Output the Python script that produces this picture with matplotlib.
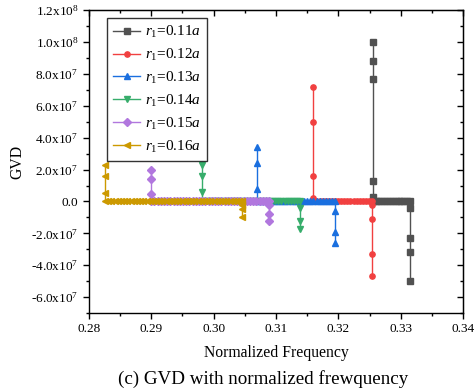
import numpy as np
import matplotlib
matplotlib.use('Agg')
import matplotlib.pyplot as plt
from matplotlib.ticker import MultipleLocator, FuncFormatter

plt.rcParams['font.family'] = ['Liberation Serif', 'DejaVu Serif']
plt.rcParams['mathtext.fontset'] = 'custom'
plt.rcParams['mathtext.rm'] = 'Liberation Serif'
plt.rcParams['mathtext.it'] = 'Liberation Serif:italic'

# data
labels = ['0.11', '0.12', '0.13', '0.14', '0.15', '0.16']
colors = ['#515151', '#F14040', '#1A6FDF', '#37AD6B', '#B177DE', '#CC9900']
markers = ['s', 'o', '^', 'v', 'D', '<']
f_start = [0.3255, 0.3160, 0.3070, 0.2982, 0.2900, 0.2826]
f_end = [0.3315, 0.3254, 0.3195, 0.3139, 0.3089, 0.3046]
n_flat = [14, 20, 26, 32, 38, 44]
spike_up = [
    [1.0e8, 8.8e7, 7.7e7, 1.3e7, 3.0e6],
    [7.2e7, 5.0e7, 1.6e7, 2.0e6],
    [3.4e7, 2.4e7, 0.8e7],
    [2.3e7, 1.6e7, 0.6e7],
    [1.95e7, 1.4e7, 0.45e7],
    [2.3e7, 1.6e7, 0.55e7],
]
spike_down = [
    [-0.4e7, -2.3e7, -3.2e7, -5.0e7],
    [-0.2e7, -1.1e7, -3.3e7, -4.7e7],
    [-0.6e7, -1.9e7, -2.6e7],
    [-0.4e7, -1.2e7, -1.7e7],
    [-0.25e7, -0.8e7, -1.25e7],
    [-0.2e7, -0.45e7, -0.95e7],
]

fig = plt.figure(figsize=(4.75, 3.92), dpi=100)
ax = fig.add_axes([0.187, 0.2015, 0.788, 0.7725])

for i in range(len(labels)):
    flat_f = np.linspace(f_start[i], f_end[i], n_flat[i])
    f = np.concatenate([[f_start[i]] * len(spike_up[i]), flat_f, [f_end[i]] * len(spike_down[i])])
    g = np.concatenate([spike_up[i], np.zeros(n_flat[i]), spike_down[i]])
    ax.plot(f, g, color=colors[i], marker=markers[i], markersize=3.8, lw=1,
            label=r'$r_1$=' + labels[i] + r'$a$')

ax.set_xlim(0.28, 0.34)
ax.set_ylim(-7e7, 1.2e8)
ax.xaxis.set_major_locator(MultipleLocator(0.01))
ax.xaxis.set_minor_locator(MultipleLocator(0.005))
ax.yaxis.set_major_locator(MultipleLocator(2e7))
ax.yaxis.set_minor_locator(MultipleLocator(1e7))
ax.xaxis.set_major_formatter(FuncFormatter(lambda v, p: '%.2f' % v))


def sci(v, p):
    if abs(v) < 1:
        return '0.0'
    e = int(np.floor(np.log10(abs(v))))
    return '%.1fx10$^{%d}$' % (v / 10 ** e, e)


ax.yaxis.set_major_formatter(FuncFormatter(sci))
ax.tick_params(axis='both', which='both', direction='out', labelsize=9.5)
ax.tick_params(which='major', length=4, width=1)
ax.tick_params(which='minor', length=2.5, width=1)
for s in ax.spines.values():
    s.set_linewidth(1)

# mirrored inward ticks on top and right
axt = ax.secondary_xaxis('top')
axt.xaxis.set_major_locator(MultipleLocator(0.01))
axt.xaxis.set_minor_locator(MultipleLocator(0.005))
axt.tick_params(which='both', direction='in', labeltop=False)
axt.tick_params(which='major', length=4, width=1)
axt.tick_params(which='minor', length=2.5, width=1)
axr = ax.secondary_yaxis('right')
axr.yaxis.set_major_locator(MultipleLocator(2e7))
axr.yaxis.set_minor_locator(MultipleLocator(1e7))
axr.tick_params(which='both', direction='in', labelright=False)
axr.tick_params(which='major', length=4, width=1)
axr.tick_params(which='minor', length=2.5, width=1)

ax.set_xlabel('Normalized Frequency', fontsize=11.3, labelpad=7)
ax.set_ylabel('GVD', fontsize=11.3)

leg = ax.legend(loc='upper left', bbox_to_anchor=(0.048, 0.975), fontsize=11,
                frameon=True, fancybox=False, edgecolor='black', handlelength=1.8,
                labelspacing=0.45, borderpad=0.4, handletextpad=0.3,
                borderaxespad=0)
leg.get_frame().set_linewidth(1)

fig.text(0.554, 0.02, '(c) GVD with normalized frewquency', ha='center', fontsize=13.7)

fig.savefig('out.png', dpi=100)
